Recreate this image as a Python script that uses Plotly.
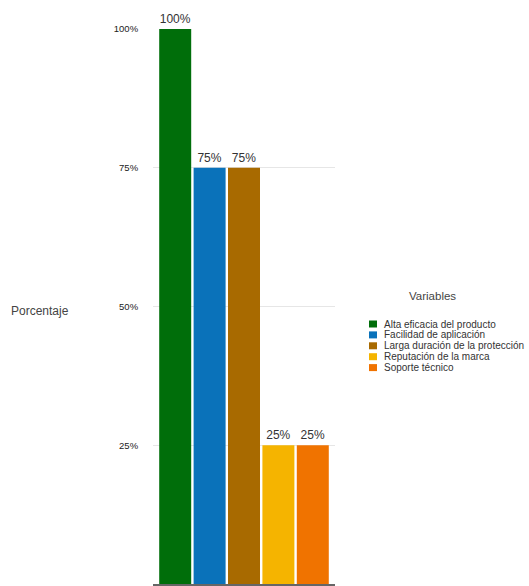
import plotly.graph_objects as go

categories = ["Alta eficacia del producto", "Facilidad de aplicación",
              "Larga duración de la protección", "Reputación de la marca",
              "Soporte técnico"]
values = [100, 75, 75, 25, 25]
colors = ["#006e0a", "#0a72ba", "#a86a00", "#f5b400", "#f07300"]
tick_vals = [0, 25, 50, 75, 100]
tick_text = ["0%", "25%", "50%", "75%", "100%"]

W, H = 529, 586
# desired plot area in window pixels
PL, PR, PT, PB = 153, 335, 29, 584
L, T, R, B = PL, PT, W - PR, H - PB
pw, ph = PR - PL, PB - PT

def px_x(x):
    return (x - PL) / pw

def px_y(y):
    return (PB - y) / ph

fig = go.Figure()
for name, v, c in zip(categories, values, colors):
    fig.add_trace(go.Bar(
        x=[""], y=[v], name=name, marker=dict(color=c, line=dict(width=0)),
        text=[f"{v}%"], textposition="outside", cliponaxis=False,
        textfont=dict(size=12, color="#333333", family="Liberation Sans, Arial"),
        showlegend=False,
    ))

annotations = [
    dict(text="Porcentaje", x=px_x(40), y=px_y(311), xref="paper", yref="paper",
         showarrow=False, font=dict(size=12, color="#444444"), xanchor="center", yanchor="middle"),
    dict(text="Variables", x=px_x(432), y=px_y(296), xref="paper", yref="paper",
         showarrow=False, font=dict(size=11.5, color="#444444"), xanchor="center", yanchor="middle"),
]
shapes = []
y0 = 324
dy = 10.9
for i, (name, c) in enumerate(zip(categories, colors)):
    yc = y0 + i * dy
    shapes.append(dict(type="rect", xref="paper", yref="paper",
                       x0=px_x(369), x1=px_x(377), y0=px_y(yc + 3.5), y1=px_y(yc - 3.5),
                       fillcolor=c, line=dict(width=0)))
    annotations.append(dict(text=name, x=px_x(382), y=px_y(yc), xref="paper", yref="paper",
                            showarrow=False, xanchor="left", yanchor="middle",
                            font=dict(size=10, color="#333333")))

fig.update_layout(
    width=W, height=H,
    margin=dict(l=L, r=R, t=T, b=B),
    paper_bgcolor="white", plot_bgcolor="white",
    font=dict(family="Liberation Sans, Arial", color="#333333"),
    barmode="group", bargap=0.055, bargroupgap=0.07,
    showlegend=False,
    annotations=annotations, shapes=shapes,
    xaxis=dict(showticklabels=False, showgrid=False, showline=True,
               linecolor="#666666", linewidth=2, ticks=""),
    yaxis=dict(range=[0, 100], tickvals=tick_vals, ticktext=tick_text,
               showgrid=True, gridcolor="#e6e6e6", gridwidth=1, zeroline=False,
               showline=False, ticks="outside", ticklen=12, tickcolor="rgba(0,0,0,0)",
               tickfont=dict(size=9.5, color="#222222")),
)

fig.write_html("out.html", config={"displayModeBar": False},
               post_script="document.body.style.margin='0';document.body.style.overflow='hidden';")
